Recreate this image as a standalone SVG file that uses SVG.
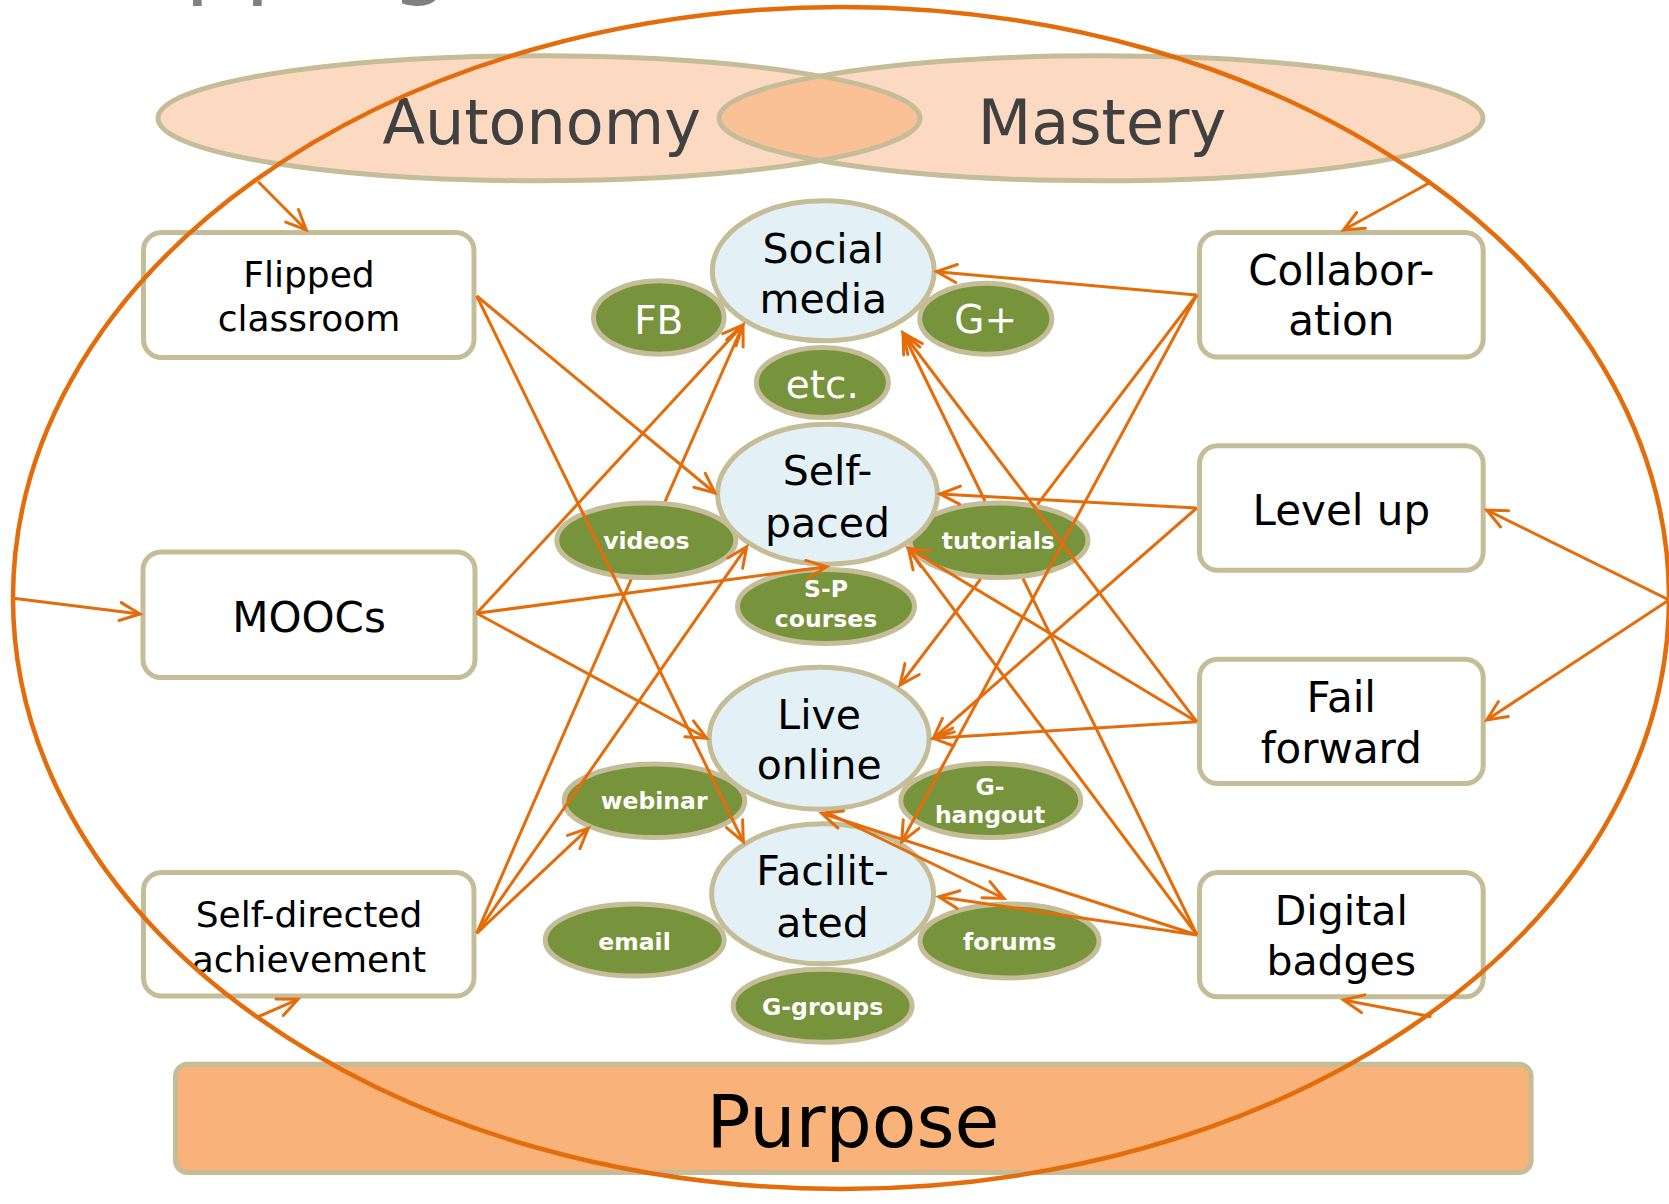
<svg xmlns="http://www.w3.org/2000/svg" width="1669" height="1204" viewBox="0 0 1669 1204">
<style>
.t{font-family:"DejaVu Sans","Liberation Sans",sans-serif;text-anchor:middle}
.box{fill:#ffffff;stroke:#c4bd97;stroke-width:5}
.blue{fill:#e3f1f6;stroke:#c4bd97;stroke-width:5}
.green{fill:#77933c;stroke:#c4bd97;stroke-width:5}
.bt{font-size:42px;fill:#000}
.gt{font-size:23.5px;font-weight:bold;fill:#ffffff}
.gl{font-size:39px;fill:#ffffff}
.conn{fill:none;stroke:#e46c0a;stroke-width:3;marker-end:url(#arr)}
</style>
<defs>
<marker id="arr" markerUnits="userSpaceOnUse" markerWidth="30" markerHeight="30" viewBox="-25 -15 30 30" refX="0" refY="0" orient="auto" overflow="visible">
<path d="M-20,-9 L0,0 L-20,9" fill="none" stroke="#e46c0a" stroke-width="3" stroke-linecap="round" stroke-linejoin="miter"/>
</marker>
<clipPath id="autoClip"><ellipse cx="539" cy="118.3" rx="381" ry="62.5"/></clipPath>
</defs>
<rect width="1669" height="1204" fill="#ffffff"/>
<text class="t" x="45" y="-13.7" style="text-anchor:start;font-size:94.5px;fill:#808080">Mapping</text>

<g id="autonomy">
<ellipse cx="539" cy="118.3" rx="381" ry="62.5" fill="#fcdac2"/>
</g>
<g id="mastery">
<ellipse cx="1101" cy="118.3" rx="382" ry="62.5" fill="#fcdac2"/>
<ellipse cx="1101" cy="118.3" rx="382" ry="62.5" fill="#f9c195" clip-path="url(#autoClip)"/>
<ellipse cx="539" cy="118.3" rx="381" ry="62.5" fill="none" stroke="#c4bd97" stroke-width="5"/>
<ellipse cx="1101" cy="118.3" rx="382" ry="62.5" fill="none" stroke="#c4bd97" stroke-width="5"/>
<text class="t" x="541.7" y="144" style="font-size:62px;fill:#404040">Autonomy</text>
<text class="t" x="1102" y="144" style="font-size:62px;fill:#404040">Mastery</text>
</g>

<g id="purpose">
<rect x="175.5" y="1064.2" width="1355.6" height="108.3" rx="12" fill="#f8b27a" stroke="#c4bd97" stroke-width="5"/>
<text class="t" x="853" y="1147" style="font-size:73px;fill:#000">Purpose</text>
</g>

<g id="flipped-classroom">
<rect class="box" x="143.5" y="232.5" width="330.5" height="125" rx="18"/>
<text class="t" x="309" y="287" style="font-size:36px">Flipped</text>
<text class="t" x="309" y="331" style="font-size:36px">classroom</text>
</g>
<g id="moocs">
<rect class="box" x="143" y="552" width="332" height="125.5" rx="18"/>
<text class="t bt" x="309" y="631.7">MOOCs</text>
</g>
<g id="self-directed">
<rect class="box" x="143.5" y="872.5" width="330.5" height="123.5" rx="18"/>
<text class="t" x="309" y="926.7" style="font-size:36px">Self-directed</text>
<text class="t" x="309" y="971.7" style="font-size:36px">achievement</text>
</g>
<g id="collaboration">
<rect class="box" x="1199.5" y="232.5" width="283.7" height="124.5" rx="18"/>
<text class="t bt" x="1341.3" y="285">Collabor-</text>
<text class="t bt" x="1341.3" y="335">ation</text>
</g>
<g id="level-up">
<rect class="box" x="1199.5" y="445.8" width="283.7" height="124.4" rx="18"/>
<text class="t bt" x="1341.3" y="525">Level up</text>
</g>
<g id="fail-forward">
<rect class="box" x="1199.5" y="659.2" width="283.7" height="124.3" rx="18"/>
<text class="t bt" x="1341.3" y="711.7">Fail</text>
<text class="t bt" x="1341.3" y="763.3">forward</text>
</g>
<g id="digital-badges">
<rect class="box" x="1199.5" y="872.5" width="283.7" height="124.3" rx="18"/>
<text class="t" x="1341.3" y="925" style="font-size:41px">Digital</text>
<text class="t" x="1341.3" y="975" style="font-size:41px">badges</text>
</g>

<g id="fb"><ellipse class="green" cx="658.8" cy="317.5" rx="65.3" ry="36.7"/><text class="t gl" x="658.8" y="333.5">FB</text></g>
<g id="etc"><ellipse class="green" cx="822.3" cy="382.5" rx="66" ry="35"/><text class="t gl" x="822.3" y="398.3">etc.</text></g>
<g id="gplus"><ellipse class="green" cx="985.8" cy="318.7" rx="66" ry="35.5"/><text class="t gl" x="985.8" y="333.3">G+</text></g>
<g id="videos"><ellipse class="green" cx="646.3" cy="540.3" rx="89.5" ry="37.2"/><text class="t gt" x="646.3" y="549.3">videos</text></g>
<g id="tutorials"><ellipse class="green" cx="999" cy="540.3" rx="89" ry="37.2"/><text class="t gt" x="998.3" y="549.3">tutorials</text></g>
<g id="sp-courses"><ellipse class="green" cx="826" cy="606.5" rx="88.5" ry="37"/><text class="t gt" x="826" y="596.7">S-P</text><text class="t gt" x="826" y="626.7">courses</text></g>
<g id="webinar"><ellipse class="green" cx="654.5" cy="800.8" rx="90.3" ry="36.7"/><text class="t gt" x="654.2" y="809.3">webinar</text></g>
<g id="g-hangout"><ellipse class="green" cx="990.8" cy="800.5" rx="90" ry="37"/><text class="t gt" x="990" y="795">G-</text><text class="t gt" x="990" y="823.3">hangout</text></g>
<g id="email"><ellipse class="green" cx="634.7" cy="940" rx="89.5" ry="36"/><text class="t gt" x="634.5" y="950">email</text></g>
<g id="forums"><ellipse class="green" cx="1009.5" cy="941" rx="89.5" ry="37"/><text class="t gt" x="1009.7" y="950">forums</text></g>
<g id="g-groups"><ellipse class="green" cx="822.6" cy="1005.8" rx="89.5" ry="36.5"/><text class="t gt" x="822.6" y="1014.5">G-groups</text></g>

<g id="social-media"><ellipse class="blue" cx="823.3" cy="270.8" rx="111" ry="70"/><text class="t" x="823.3" y="262.7" style="font-size:41px">Social</text><text class="t" x="823.3" y="313.3" style="font-size:41px">media</text></g>
<g id="self-paced"><ellipse class="blue" cx="827.5" cy="494.2" rx="110" ry="70"/><text class="t" x="827.5" y="485" style="font-size:41px">Self-</text><text class="t" x="827.5" y="536.7" style="font-size:41px">paced</text></g>
<g id="live-online"><ellipse class="blue" cx="819.2" cy="738.3" rx="110" ry="71"/><text class="t" x="819.2" y="729.3" style="font-size:41px">Live</text><text class="t" x="819.2" y="779.3" style="font-size:41px">online</text></g>
<g id="facilitated"><ellipse class="blue" cx="822.6" cy="893.8" rx="111" ry="70"/><text class="t" x="822.6" y="885" style="font-size:41px">Facilit-</text><text class="t" x="822.6" y="936.7" style="font-size:41px">ated</text></g>

<g id="connectors">
<path class="conn" d="M258.3,181.7 L306.2,230"/>
<path class="conn" d="M1431.4,181.7 L1343.5,230"/>
<path class="conn" d="M13.3,598.3 L140,614"/>
<path class="conn" d="M258.3,1016.7 L298,999.3"/>
<path class="conn" d="M1431.4,1016.7 L1343.5,1000"/>
<path class="conn" d="M1669,600 L1486.7,510"/>
<path class="conn" d="M1669,600 L1486.7,720"/>
<path class="conn" d="M476.7,296 L715,493"/>
<path class="conn" d="M476.7,296 L743.3,841.7"/>
<path class="conn" d="M476.7,613.3 L743,325"/>
<path class="conn" d="M476.7,613.3 L826.7,566.7"/>
<path class="conn" d="M476.7,613.3 L706.7,738.3"/>
<path class="conn" d="M476.7,933.3 L631.1,579.5 M665.1,501.4 L743,325"/>
<path class="conn" d="M476.7,933.3 L746.7,546.7"/>
<path class="conn" d="M476.7,933.3 L588.3,828.3"/>
<path class="conn" d="M1196.7,295 L936.7,271.7"/>
<path class="conn" d="M1196.7,295 L1037.4,504.4 M980.6,579.1 L900,685"/>
<path class="conn" d="M1196.7,295 L901.7,841.7"/>
<path class="conn" d="M1196.7,508 L940,494"/>
<path class="conn" d="M1196.7,508 L933.3,738.3"/>
<path class="conn" d="M1196.7,721.7 L903,333"/>
<path class="conn" d="M1196.7,721.7 L908.3,548.3"/>
<path class="conn" d="M1196.7,721.7 L933.3,738.3"/>
<path class="conn" d="M1197,935 L1023,578.7 M985,501 L903,333"/>
<path class="conn" d="M1197,935 L908.3,548.3"/>
<path class="conn" d="M1197,935 L821.7,813.3"/>
<path class="conn" d="M1197,935 L938.8,896.7"/>
<path class="conn" d="M826,812 L1004,898.5"/>
</g>

<g id="frame">
<ellipse cx="841" cy="598" rx="828" ry="591" fill="none" stroke="#e46c0a" stroke-width="4.5"/>
</g>
</svg>
